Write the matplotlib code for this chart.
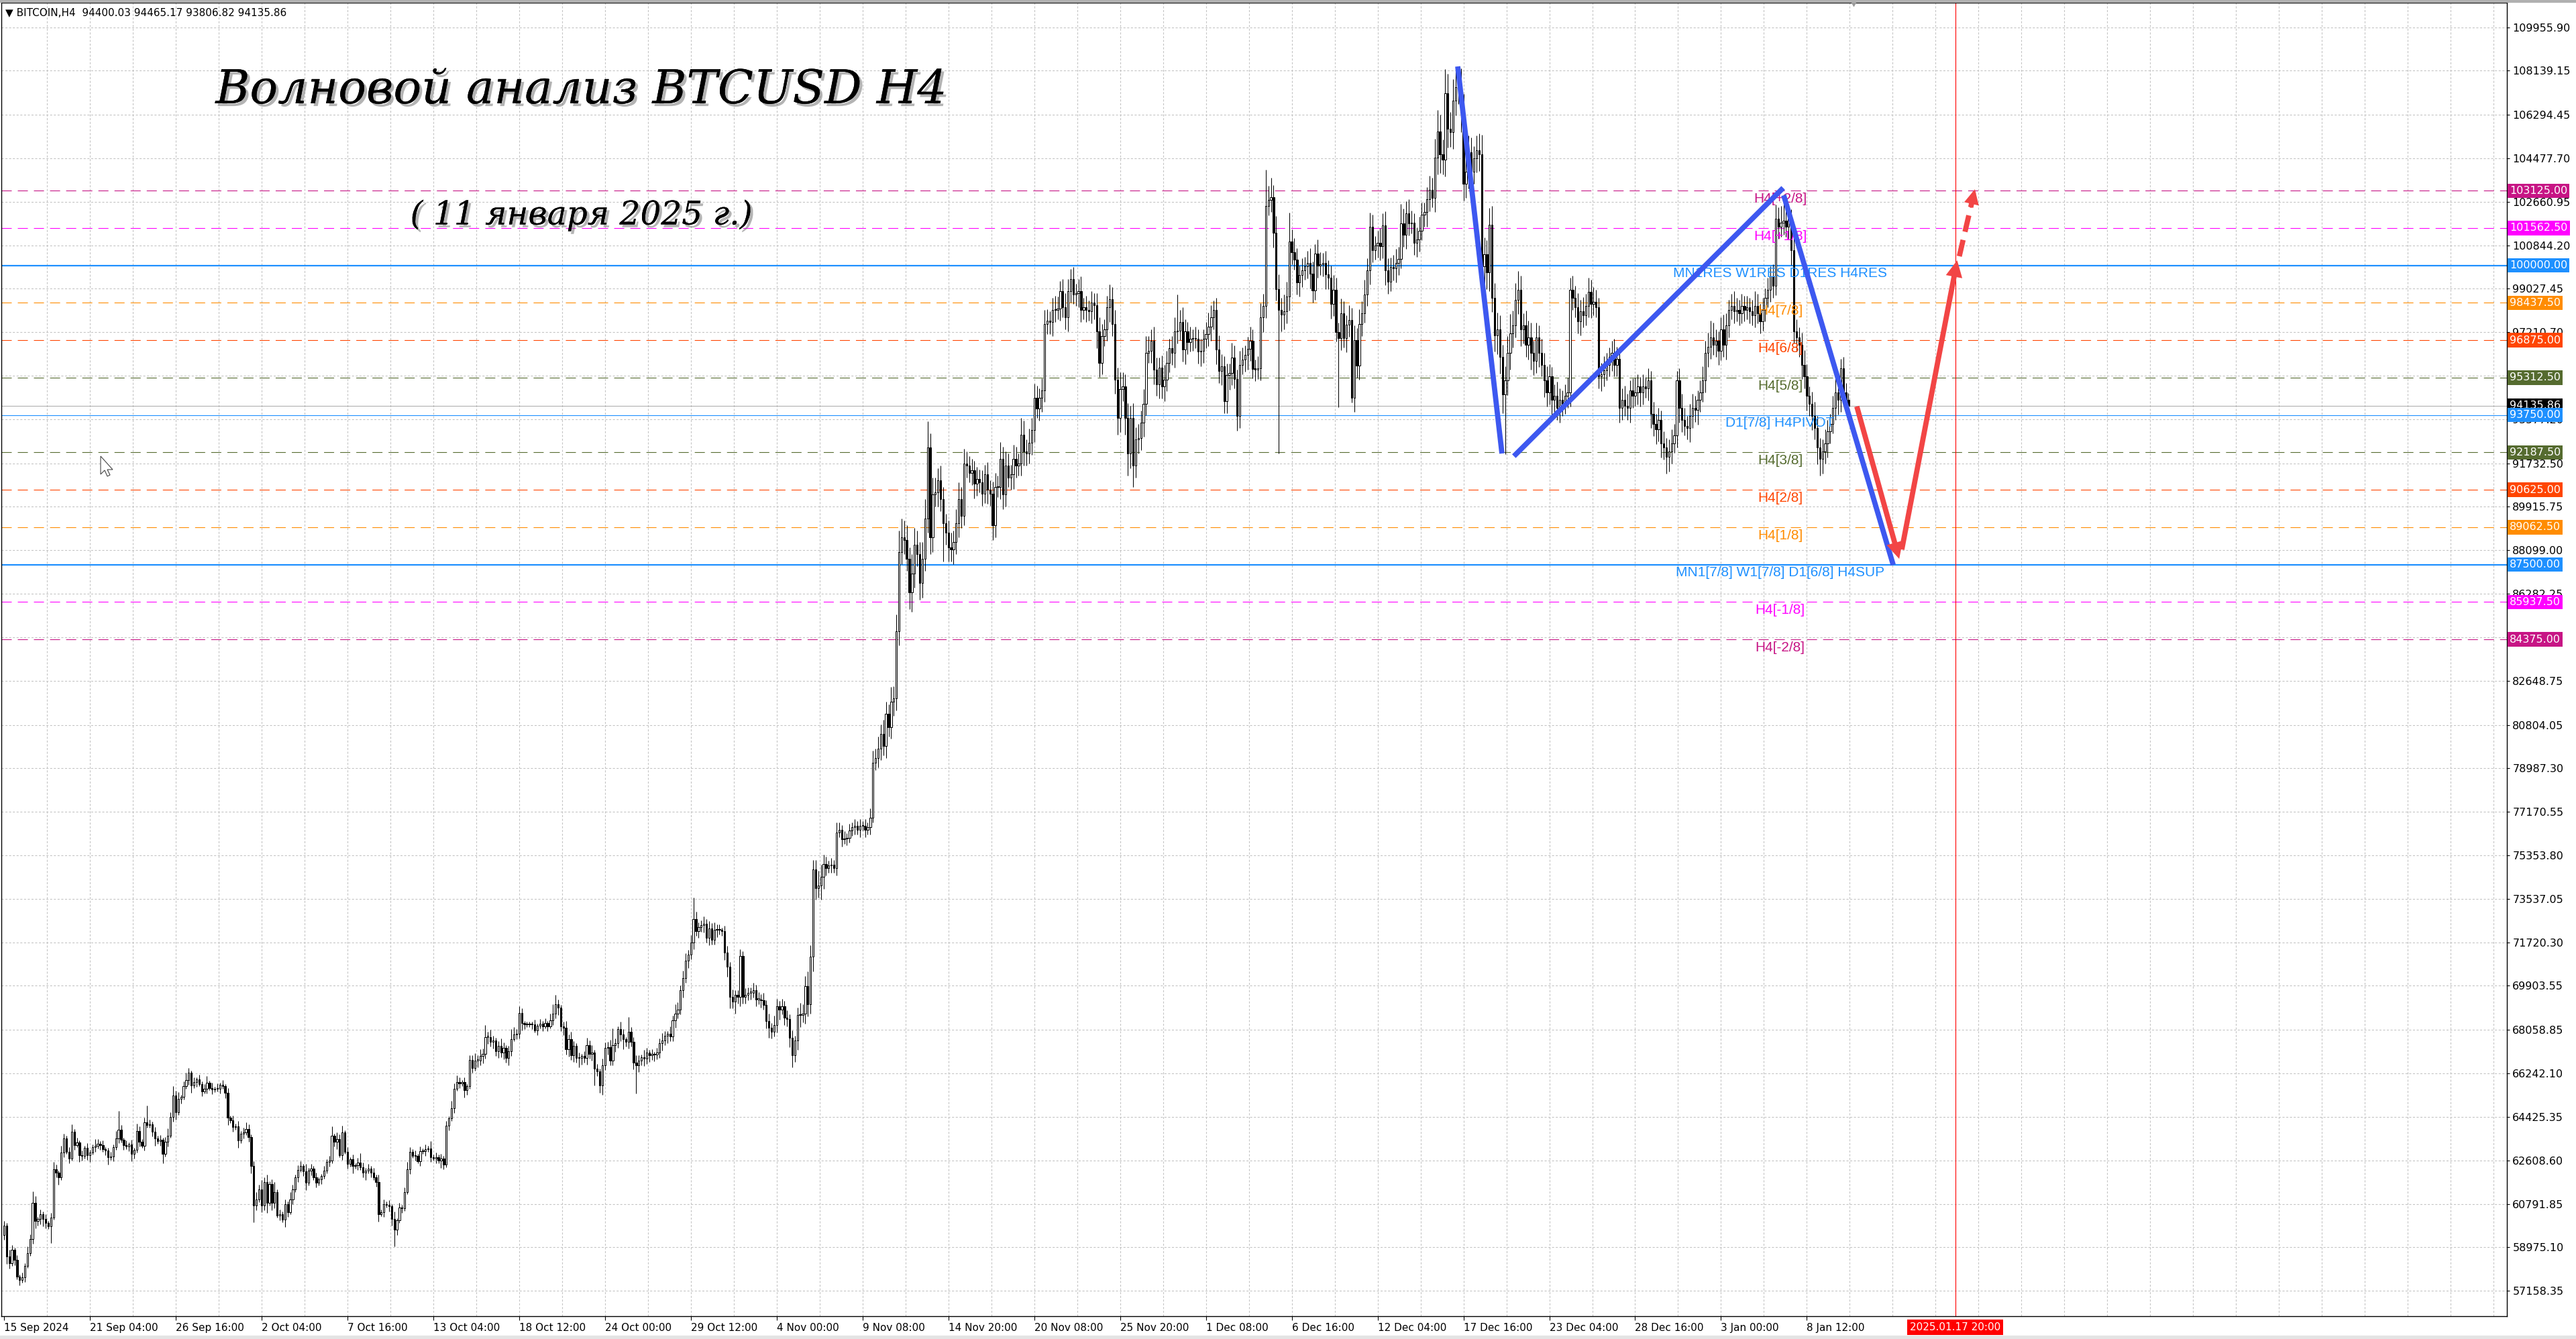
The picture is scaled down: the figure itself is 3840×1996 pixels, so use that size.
import matplotlib
matplotlib.use("Agg")
import matplotlib.pyplot as plt
import matplotlib.patheffects as pe
from matplotlib.patches import Polygon
import numpy as np

# --- chart data (BTCUSD H4, 15 Sep 2024 - 11 Jan 2025) ---

# closes per H4 bar, in USD
closes_sep_oct = [
    59890, 58580, 58300, 58860, 58440, 57740, 57600, 57720, 58210, 58720,
    59330, 60820, 60080, 60150, 60360, 60150, 59980, 59840, 60220, 62230,
    62090, 61900, 62930, 63530, 62970, 62690, 63810, 63250, 63350, 62830,
    62790, 63130, 62830, 62950, 63160, 63210, 63300, 63250, 63070, 63020,
    62740, 62770, 63160, 63530, 63880, 63460, 63250, 63180, 63270, 62880,
    63040, 63830, 63390, 63230, 64190, 64080, 64120, 63800, 63530, 63410,
    63460, 62880, 63390, 63650, 64420, 65310, 64610, 65170, 65260, 65710,
    65960, 66260, 65730, 65870, 65980, 65800, 65500, 65590, 65840, 65640,
    65570, 65590, 65610, 65760, 65700, 65420, 64390, 64280, 64000, 64040,
    63440, 63720, 63770, 63910, 63580, 62370, 60730, 60970, 61390, 60730,
    61710, 60820, 61620, 60820, 61290, 60310, 60360, 60120, 60780, 60450,
    60970, 61390, 61900, 62210, 62370, 62150, 61670, 62180, 62270, 61900,
    61670, 61810, 61950, 62180, 62550, 62600, 63630, 63390, 63490, 62830,
    63770, 62970, 62460, 62650, 62370, 62400, 62510, 62320, 62090, 62180,
    62270, 62090, 61900, 61710, 60360, 60450, 60780, 60750, 60680, 60170,
    59700, 60100, 60640, 60600, 61290, 62230, 62970, 62810, 62790, 62580,
    62990, 63000, 63070, 63110, 62740, 62690, 62740, 62600, 62690, 62430,
    64050, 64360, 64800, 65610, 65870, 65820, 65870, 65540, 65700, 66800,
    66460, 66790,
]
closes_oct_nov = [
    66790, 66960, 67070, 67770, 67770, 67570, 67620, 67180, 67400, 67120,
    67320, 66880, 67180, 67680, 67880, 67900, 68760, 68340, 68290, 68290,
    68290, 68290, 68040, 68230, 68320, 68210, 68340, 68210, 68450, 68730,
    69120, 68990, 68210, 68140, 67240, 67680, 67010, 67400, 66900, 66900,
    66960, 66900, 67430, 67070, 67120, 66440, 66330, 65740, 66570, 67320,
    67350, 66770, 67430, 67500, 68100, 67880, 67660, 67570, 67990, 67570,
    66700, 66590, 66790, 66930, 66850, 67120, 67010, 67050, 67040, 67100,
    67510, 67620, 67810, 67900, 67790, 68450, 68730, 68920, 69720, 70230,
    70950, 71200, 71720, 72690, 72200, 72350, 72440, 72500, 71910, 72310,
    71830, 72240, 72270, 72240, 72200, 71280, 70690, 69450, 69250, 69510,
    69450, 71140, 69450, 69510, 69620, 69620, 69730, 69340, 69340, 69300,
    69100, 68430, 68140, 67990, 68260, 69060, 68900, 69060, 68570, 68510,
    67730, 67010, 67620, 68680, 68680, 68730, 69900, 69140, 71110, 74770,
    73990, 74100, 74460, 74990,
]
closes_nov_dec = [
    74820, 74920, 74955, 74820, 76320, 76420, 76020, 76060, 76080, 76380,
    76520, 76580, 76420, 76580, 76580, 76420, 76520, 76920, 79220, 79420,
    79820, 80420, 79920, 81260, 80720, 81780, 81920, 84720, 88030, 88630,
    88530, 87730, 86330, 87130, 88330, 87930, 86730, 87730, 89430, 92390,
    88630, 90430, 90530, 91030, 90230, 89230, 88830, 88230, 88130, 88430,
    89230, 90230, 89530, 91730, 91630, 91330, 91430, 90870, 91070, 90930,
    90470, 91270, 90630, 90470, 89130, 90730, 90730, 91930, 90430, 91630,
    91130, 91270, 91910, 91630, 91730, 92930, 92230, 92130, 92590, 93130,
    94470, 94030, 94470, 94790, 97540, 97680, 97640, 98140, 98140, 98200,
    98940, 98240, 97840, 98940, 99440, 98800, 98840, 98940, 98140, 98240,
    98140, 98080, 98440, 98340, 97240, 95940, 97040, 97340, 98240, 98600,
    97540, 95240, 93640, 94840, 94940, 93640, 92130, 93640, 91630, 92730,
    92790, 93430, 94230, 96340, 96440, 96840, 95640, 95040, 95740, 94940,
    95240, 95940, 96540, 96340, 97240, 97280, 97640, 96480, 97240, 96800,
    96940, 96940, 96940, 96400, 96440, 96940, 97140, 97440, 97840, 98140,
    96480, 95600, 95800, 94330,
]
closes_dec = [
    95410, 95510, 96160, 95250, 93710, 95840, 96070, 96250, 96520, 96840,
    95680, 95660, 95700, 97820, 98310, 102500, 102730, 102850, 101360, 99020,
    98150, 97940, 98090, 98710, 101000, 100550, 100230, 99300, 99600, 99790,
    99950, 100110, 99650, 98950, 100490, 99990, 100050, 100110, 99620, 99500,
    98385, 98990, 97220, 96965, 98010, 96965, 97530, 97730, 94480, 96890,
    95820, 97560, 98010, 98800, 99800, 101610, 100630, 100830, 100950, 100810,
    101670, 99790, 99320, 99930, 99880, 100100, 100270, 101770, 101280, 102170,
    101750, 101780, 100950, 101080, 101450, 102120, 102230, 102760, 103150, 102820,
]
closes_dec_jan = [
    104500, 105600, 104650, 104410, 107200, 105720, 105560, 106875, 107450, 107530,
    106380, 103420, 103910, 104740, 103910, 104490, 104820, 104650, 99965, 100460,
    99720, 101690, 98650, 97090, 97330, 96180, 94620, 95195, 96350, 97170,
    97500, 98570, 98980, 97335, 97500, 96675, 97005, 96350, 96020, 97005,
    96350, 95855, 95195, 94700, 95360, 94375, 94540, 94045, 94375, 94210,
    94540, 94700, 98980, 98650, 98240, 97665, 98075, 97910, 98320, 98895,
    98405, 98485, 98240, 95360, 95440, 95605, 95855, 96180, 96350, 95855,
    96100, 94045, 94375, 94125, 94045, 94785, 94540, 94700, 94950, 94700,
    94950, 94865, 95195, 93800, 93385, 93140, 93550, 92565, 92400, 91990,
    92235, 92565, 92890, 95195, 94045, 93550, 93305, 93220, 93715, 94045,
    93960, 94375, 94700, 95195, 96350, 96595, 97005, 96675, 96840, 96430,
    97335, 96675, 97500, 98155, 98320, 98075, 98155, 97990, 98320, 98155,
    98240, 98075, 97910, 98320, 97990, 97665, 98155, 98650, 98980, 99555,
    99145, 101940, 101610, 101775, 101860, 101610, 101940, 100625, 97250, 97005,
    96675, 95855, 95360, 94540, 94210, 93715, 93220, 92400, 91905, 92235,
    92565, 93055, 93385, 94045, 94700, 94375, 95690, 94700, 94375, 94135.86,
]
first_open = 59500

# wick lengths above / below the body, in units of 100 USD
wick_hi_sep_oct = [
    2, 1, 3, 2, 1, 2, 1, 2, 1, 3,  2, 5, 3, 1, 2, 1, 2, 1, 2, 3,
    2, 1, 3, 2, 1, 2, 3, 1, 2, 1,  2, 1, 2, 1, 1, 3, 2, 1, 2, 1,
    1, 2, 1, 3, 8, 2, 1, 2, 1, 2,  1, 3, 2, 1, 2, 7, 2, 1, 2, 1,
    2, 1, 2, 3, 2, 4, 2, 3, 1, 2,  3, 2, 1, 2, 1, 2, 1, 2, 3, 1,
    2, 1, 2, 1, 2, 1, 2, 1, 2, 1,  2, 1, 2, 3, 2, 1, 2, 3, 2, 4,
    2, 3, 1, 2, 4, 1, 2, 1, 2, 1,  3, 2, 1, 2, 2, 1, 3, 1, 2, 1,
    2, 1, 1, 2, 1, 2, 4, 1, 3, 2,  3, 1, 2, 1, 2, 1, 2, 4, 2, 1,
    2, 1, 2, 1, 3, 1, 2, 1, 2, 1,  3, 1, 2, 1, 2, 3, 2, 1, 2, 1,
    2, 1, 2, 1, 3, 1, 2, 1, 2, 1,  2, 1, 3, 2, 3, 2, 1, 2, 1, 2,
    2, 3,
]
wick_lo_sep_oct = [
    2, 3, 2, 1, 2, 1, 2, 1, 2, 1,  1, 2, 3, 2, 2, 3, 2, 1, 7, 1,
    2, 3, 1, 2, 1, 2, 1, 2, 1, 3,  2, 1, 2, 3, 1, 2, 1, 2, 1, 2,
    3, 1, 2, 1, 2, 1, 2, 1, 2, 3,  2, 1, 2, 1, 2, 1, 1, 2, 3, 1,
    2, 4, 1, 2, 1, 2, 3, 1, 2, 1,  1, 2, 3, 1, 2, 1, 2, 1, 2, 1,
    2, 1, 1, 2, 1, 2, 3, 1, 2, 1,  3, 1, 2, 1, 2, 3, 7, 2, 1, 3,
    2, 4, 1, 3, 2, 1, 2, 1, 3, 2,  1, 2, 1, 2, 1, 2, 3, 1, 2, 1,
    2, 1, 2, 1, 1, 2, 1, 2, 3, 1,  2, 1, 2, 1, 3, 1, 2, 1, 2, 3,
    1, 2, 1, 2, 3, 1, 2, 1, 2, 3,  7, 2, 1, 2, 1, 1, 2, 1, 2, 1,
    2, 1, 2, 1, 2, 1, 2, 1, 3, 2,  1, 2, 1, 2, 1, 2, 1, 3, 2, 1,
    2, 1,
]
wick_hi_oct_nov = [
    2, 3, 2, 5, 2, 3, 2, 1, 2, 3,  2, 1, 2, 4, 3, 2, 3, 2, 1, 1,
    1, 1, 2, 1, 2, 1, 2, 1, 3, 4,  4, 2, 1, 2, 3, 2, 3, 2, 1, 2,
    1, 2, 3, 2, 3, 1, 2, 1, 3, 2,  2, 3, 7, 2, 1, 3, 2, 1, 6, 2,
    2, 3, 2, 1, 3, 2, 1, 2, 1, 2,  2, 3, 2, 1, 3, 2, 4, 3, 2, 3,
    3, 2, 3, 9, 3, 2, 2, 3, 2, 3,  2, 3, 2, 2, 1, 2, 3, 2, 3, 2,
    2, 3, 2, 3, 2, 2, 3, 2, 3, 2,  3, 2, 3, 2, 4, 3, 2, 3, 2, 3,
    2, 3, 2, 3, 5, 4, 4, 6, 5, 4,  4, 6, 5, 4,
]
wick_lo_oct_nov = [
    3, 2, 3, 2, 3, 2, 3, 2, 3, 2,  3, 2, 3, 2, 1, 2, 2, 3, 2, 1,
    1, 2, 1, 2, 1, 2, 1, 2, 1, 2,  2, 3, 2, 3, 2, 3, 2, 3, 2, 4,
    3, 2, 3, 2, 3, 7, 2, 3, 4, 2,  3, 2, 2, 3, 2, 3, 4, 2, 3, 2,
    3, 12, 3, 2, 3, 2, 3, 2, 3, 2,  2, 3, 2, 3, 2, 2, 3, 2, 2, 3,
    2, 3, 2, 3, 2, 3, 2, 3, 2, 3,  2, 2, 3, 2, 2, 3, 4, 5, 3, 5,
    3, 4, 3, 3, 2, 3, 2, 3, 2, 3,  2, 3, 4, 3, 2, 3, 4, 2, 3, 3,
    4, 5, 3, 4, 5, 3, 4, 5, 4, 6,  5, 4, 6, 5,
]
wick_hi_nov_dec = [
    3, 2, 3, 2, 4, 3, 2, 3, 2, 3,  2, 3, 2, 3, 2, 3, 2, 4, 5, 4,
    5, 4, 6, 5, 4, 6, 5, 7, 9, 8,  7, 6, 5, 8, 7, 6, 5, 7, 8, 11,
    6, 7, 6, 5, 6, 5, 4, 5, 6, 5,  6, 7, 5, 6, 5, 4, 5, 4, 5, 4,
    5, 4, 5, 4, 5, 6, 5, 7, 5, 6,  5, 4, 6, 5, 4, 7, 6, 5, 6, 5,
    6, 5, 4, 5, 6, 5, 4, 5, 6, 5,  4, 5, 6, 5, 4, 5, 4, 5, 6, 4,
    5, 4, 5, 4, 5, 6, 5, 4, 5, 6,  5, 6, 5, 7, 6, 5, 6, 5, 6, 5,
    6, 5, 6, 7, 6, 5, 6, 5, 4, 5,  6, 5, 4, 5, 6, 15, 5, 6, 5, 4,
    5, 4, 5, 4, 5, 4, 5, 6, 5, 4,  5, 6, 5, 4,
]
wick_lo_nov_dec = [
    3, 2, 3, 2, 3, 2, 3, 2, 3, 2,  2, 3, 2, 3, 2, 3, 2, 3, 2, 3,
    4, 5, 4, 5, 4, 5, 6, 5, 6, 5,  6, 5, 7, 8, 6, 5, 7, 6, 5, 6,
    7, 6, 5, 6, 5, 16, 5, 6, 5, 6,  5, 6, 5, 4, 5, 4, 5, 6, 5, 4,
    5, 4, 6, 5, 6, 5, 4, 5, 6, 5,  4, 5, 6, 5, 4, 5, 6, 5, 4, 5,
    5, 4, 5, 6, 5, 4, 5, 6, 5, 4,  5, 4, 5, 6, 5, 4, 5, 6, 5, 4,
    5, 4, 5, 6, 7, 6, 5, 4, 5, 6,  5, 6, 7, 6, 5, 7, 9, 6, 9, 5,
    6, 5, 6, 5, 4, 5, 6, 5, 6, 5,  6, 5, 4, 5, 6, 5, 4, 5, 6, 5,
    4, 5, 4, 5, 6, 5, 4, 5, 6, 5,  6, 5, 6, 5,
]
wick_hi_dec = [
    5, 4, 6, 5, 4, 6, 5, 4, 5, 6,  5, 4, 5, 6, 5, 15, 6, 8, 5, 7,
    6, 5, 7, 6, 12, 5, 6, 5, 4, 5,  4, 5, 6, 5, 4, 6, 5, 4, 5, 6,
    5, 6, 5, 4, 6, 5, 4, 6, 5, 6,  5, 6, 5, 6, 5, 6, 5, 4, 5, 6,
    5, 6, 5, 4, 5, 6, 5, 8, 6, 5,  6, 5, 4, 5, 6, 5, 4, 5, 6, 5,
]
wick_lo_dec = [
    5, 6, 5, 4, 6, 5, 4, 5, 6, 5,  4, 5, 4, 5, 6, 5, 4, 5, 6, 5,
    60, 7, 6, 5, 6, 5, 4, 5, 6, 5,  4, 5, 6, 5, 4, 5, 4, 5, 6, 5,
    6, 5, 4, 29, 5, 4, 6, 5, 2, 6,  5, 6, 5, 4, 5, 6, 5, 4, 5, 6,
    5, 6, 5, 4, 5, 6, 5, 4, 5, 6,  5, 4, 5, 6, 5, 4, 5, 6, 5, 4,
]
wick_hi_dec_jan = [
    8, 9, 7, 6, 10, 8, 7, 9, 8, 8,  7, 8, 6, 7, 6, 5, 6, 7, 8, 7,
    6, 7, 8, 6, 7, 6, 5, 6, 7, 8,  6, 7, 8, 6, 5, 6, 7, 6, 5, 6,
    5, 6, 5, 6, 5, 4, 5, 6, 5, 4,  5, 6, 5, 6, 5, 6, 5, 6, 5, 6,
    5, 6, 5, 4, 5, 6, 5, 4, 5, 6,  5, 4, 5, 6, 5, 4, 5, 6, 5, 4,
    5, 4, 5, 4, 5, 4, 5, 4, 5, 4,  5, 6, 5, 4, 5, 6, 5, 4, 5, 6,
    5, 4, 5, 6, 5, 6, 7, 6, 5, 4,  5, 6, 5, 4, 5, 6, 5, 4, 5, 4,
    5, 4, 5, 6, 5, 4, 5, 4, 5, 4,  5, 6, 5, 7, 11, 6, 5, 4, 6, 5,
    4, 5, 6, 5, 4, 5, 6, 5, 4, 5,  6, 5, 4, 5, 8, 5, 4, 5, 4, 3,
]
wick_lo_dec_jan = [
    6, 7, 8, 6, 7, 8, 6, 7, 6, 7,  8, 7, 6, 7, 6, 5, 6, 7, 6, 8,
    7, 8, 6, 7, 8, 7, 8, 25, 6, 7,  6, 5, 6, 7, 6, 5, 6, 7, 6, 5,
    6, 5, 7, 6, 5, 8, 6, 5, 6, 5,  4, 5, 6, 5, 4, 5, 6, 5, 4, 5,
    6, 5, 4, 5, 6, 5, 4, 5, 6, 5,  5, 6, 5, 4, 5, 6, 5, 4, 5, 6,
    5, 4, 5, 6, 5, 6, 5, 6, 5, 7,  6, 5, 4, 5, 6, 5, 4, 5, 6, 5,
    5, 6, 5, 4, 5, 6, 5, 4, 5, 6,  4, 5, 6, 5, 4, 5, 4, 5, 4, 5,
    4, 5, 4, 5, 4, 5, 4, 5, 4, 5,  5, 4, 5, 4, 5, 4, 5, 6, 5, 6,
    5, 6, 5, 6, 5, 6, 5, 7, 7, 6,  5, 6, 5, 4, 5, 6, 5, 4, 5, 3,
]

# Murrey math levels
level_prices = [103125.0, 101562.5, 100000.0, 98437.5, 96875.0, 95312.5, 93750.0,
                92187.5, 90625.0, 89062.5, 87500.0, 85937.5, 84375.0]
level_names = ["H4[+2/8]", "H4[+1/8]", "MN1RES W1RES D1RES H4RES", "H4[7/8]", "H4[6/8]",
               "H4[5/8]", "D1[7/8] H4PIVOT", "H4[3/8]", "H4[2/8]", "H4[1/8]",
               "MN1[7/8] W1[7/8] D1[6/8] H4SUP", "H4[-1/8]", "H4[-2/8]"]
level_colors = ["#C71585", "#FF00FF", "#1E90FF", "#FF8C00", "#FF4500", "#556B2F", "#1E90FF",
                "#556B2F", "#FF4500", "#FF8C00", "#1E90FF", "#FF00FF", "#C71585"]
level_width = [0.8, 0.8, 1.6, 0.8, 0.8, 0.8, 0.8, 0.8, 0.8, 0.8, 1.6, 0.8, 0.8]
last_price = 94135.86

price_ticks = ["109955.90", "108139.15", "106294.45", "104477.70", "102660.95", "100844.20",
               "99027.45", "97210.70", "95393.95", "93577.20", "91732.50", "89915.75",
               "88099.00", "86282.25", "84465.50", "82648.75", "80804.05", "78987.30",
               "77170.55", "75353.80", "73537.05", "71720.30", "69903.55", "68058.85",
               "66242.10", "64425.35", "62608.60", "60791.85", "58975.10", "57158.35"]
date_ticks = ["15 Sep 2024", "21 Sep 04:00", "26 Sep 16:00", "2 Oct 04:00", "7 Oct 16:00",
              "13 Oct 04:00", "18 Oct 12:00", "24 Oct 00:00", "29 Oct 12:00", "4 Nov 00:00",
              "9 Nov 08:00", "14 Nov 20:00", "20 Nov 08:00", "25 Nov 20:00", "1 Dec 08:00",
              "6 Dec 16:00", "12 Dec 04:00", "17 Dec 16:00", "23 Dec 04:00", "28 Dec 16:00",
              "3 Jan 00:00", "8 Jan 12:00"]
bars_per_label = 33

# wave drawing (bar index, price)
wave_a = [(558.8, 108316), (575.8, 92143)]
wave_b = [(580.4, 92031), (683.9, 103240)]
wave_c = [(684.1, 102932), (726.2, 87487)]
arrow_down = [(712.2, 94110), (728.5, 87740)]
arrow_up = [(729.5, 88130), (750.8, 100215)]
arrow_dash = [(751.6, 100384), (757.6, 103184)]
future_bar = 750.1
future_label = "2025.01.17 20:00"

# --- build candles ---
closes = np.array(closes_sep_oct + closes_oct_nov + closes_nov_dec + closes_dec + closes_dec_jan, float)
wick_hi = np.array(wick_hi_sep_oct + wick_hi_oct_nov + wick_hi_nov_dec + wick_hi_dec + wick_hi_dec_jan, float)
wick_lo = np.array(wick_lo_sep_oct + wick_lo_oct_nov + wick_lo_nov_dec + wick_lo_dec + wick_lo_dec_jan, float)
n = min(len(closes), len(wick_hi), len(wick_lo))
closes, wick_hi, wick_lo = closes[:n], wick_hi[:n], wick_lo[:n]
opens = np.concatenate([[first_open], closes[:-1]])
top = np.maximum(opens, closes)
bot = np.minimum(opens, closes)
highs = top + wick_hi * 100
lows = bot - wick_lo * 100
xs = np.arange(n)

plt.rcParams['font.family'] = ['DejaVu Sans']
plt.rcParams['lines.scale_dashes'] = False

W, H, DPI = 3840, 1996, 100
fig = plt.figure(figsize=(W / DPI, H / DPI), dpi=DPI, facecolor='white')
ax = fig.add_axes([2 / W, 34 / H, 3735 / W, 1958 / H])
ax.set_xlim(-1.03, 962.1)
ax.set_ylim(56097, 110979)

# grid
tick_vals = [float(t) for t in price_ticks]
grid_style = dict(color='#c4c4c4', lw=0.8, ls=(0, (2.2, 1.8)), zorder=0.5)
for v in tick_vals:
    ax.axhline(v, **grid_style)
for k in range(1, 59):
    ax.axvline(k * bars_per_label / 2, **grid_style)

# levels
for p, c, w in zip(level_prices, level_colors, level_width):
    if c == "#1E90FF":
        ax.axhline(p, color=c, lw=w, zorder=1.5)
    else:
        ax.axhline(p, color=c, lw=w, ls=(0, (10.8, 6.5)), zorder=1.5)
ax.axhline(last_price, color='#a8a8a8', lw=0.7, zorder=1.5)
ax.axvline(future_bar, color='#ff0000', lw=0.8, zorder=1.6)

# candles
ax.vlines(xs, lows, highs, color='black', lw=0.75, zorder=3)
up = closes >= opens
body = np.maximum(top - bot, 30)
ax.bar(xs[up], body[up], bottom=bot[up], width=0.6, facecolor='white',
       edgecolor='black', linewidth=0.75, zorder=4)
ax.bar(xs[~up], body[~up], bottom=bot[~up], width=0.6, facecolor='black',
       edgecolor='black', linewidth=0.75, zorder=4)

# level labels
for p, name, c in zip(level_prices, level_names, level_colors):
    ax.annotate(name, (682.7, p), xytext=(0, -2), textcoords='offset points',
                ha='center', va='top', color=c, fontsize=15,
                family=['Liberation Sans', 'DejaVu Sans'], zorder=6)

# waves and arrows
blue = '#3d58f0'
for seg in (wave_a, wave_b, wave_c):
    (x0, y0), (x1, y1) = seg
    ax.plot([x0, x1], [y0, y1], color=blue, lw=5.6, solid_capstyle='butt', zorder=7)
red = '#f24545'
for seg in (arrow_down, arrow_up):
    (x0, y0), (x1, y1) = seg
    ax.annotate('', xy=(x1, y1), xytext=(x0, y0),
                arrowprops=dict(arrowstyle='-|>', color=red, lw=5.6, mutation_scale=22,
                                shrinkA=0, shrinkB=0, capstyle='butt', joinstyle='miter'),
                zorder=8)
(x0, y0), (x1, y1) = arrow_dash
ax.plot([x0, x0 + (x1 - x0) * 0.8], [y0, y0 + (y1 - y0) * 0.8], color=red, lw=5.6,
        ls=(0, (18, 9)), solid_capstyle='butt', dash_capstyle='butt', zorder=8)
ax.annotate('', xy=(x1, y1), xytext=(x0 + (x1 - x0) * 0.75, y0 + (y1 - y0) * 0.75),
            arrowprops=dict(arrowstyle='-|>', color=red, lw=4, mutation_scale=24,
                            shrinkA=0, shrinkB=0, joinstyle='miter'), zorder=8)

# axes, ticks
for s in ax.spines.values():
    s.set_color('black')
    s.set_linewidth(1.0)
ax.yaxis.tick_right()
ax.set_yticks(tick_vals)
ax.set_yticklabels(price_ticks, fontsize=11.5)
ax.tick_params(axis='y', length=3, width=0.8, pad=3, colors='black')
ax.set_xticks([k * bars_per_label for k in range(len(date_ticks))])
ax.set_xticklabels(date_ticks, fontsize=11, ha='left')
ax.tick_params(axis='x', length=4, width=0.8, pad=3, colors='black')

# coloured price boxes on the right scale (current price box below the level boxes)
ax.text(1.00107, last_price, f"{last_price:.2f}", transform=ax.get_yaxis_transform(),
        ha='left', va='center', color='white', fontsize=11.5, zorder=9, clip_on=False,
        bbox=dict(boxstyle='square,pad=0.2', fc='black', ec='none'))
for p, c in zip(level_prices, level_colors):
    ax.text(1.00107, p, f"{p:.2f}", transform=ax.get_yaxis_transform(), ha='left', va='center',
            color='white', fontsize=11.5, zorder=10, clip_on=False,
            bbox=dict(boxstyle='square,pad=0.2', fc=c, ec='none'))
ax.text(future_bar, -0.0085, future_label, transform=ax.get_xaxis_transform(), ha='center',
        va='center', color='white', fontsize=11, zorder=10, clip_on=False,
        bbox=dict(boxstyle='square,pad=0.25', fc='#ff0000', ec='none'))
ax.plot([711], [1.0], marker='v', color='#9a9a9a', markersize=7,
        transform=ax.get_xaxis_transform(), clip_on=False, zorder=10)

# header and titles
fig.text(8 / W, 1 - 20 / H, "\u25bc BITCOIN,H4  94400.03 94465.17 93806.82 94135.86",
         fontsize=11, va='center', ha='left')
shadow = [pe.withSimplePatchShadow(offset=(3, -3), shadow_rgbFace='#777777', alpha=0.55), pe.Normal()]
fig.text(867 / W, 1 - 135 / H, "Волновой анализ BTCUSD H4", fontsize=50, style='italic',
         family='DejaVu Serif', ha='center', va='center', path_effects=shadow)
fig.text(867 / W, 1 - 321 / H, "( 11 января 2025 г.)", fontsize=35, style='italic',
         family='DejaVu Serif', ha='center', va='center', path_effects=shadow)

# mouse pointer
cx, cy = 150, 680
cur = np.array([(0, 0), (0, 27), (6, 21), (10, 30), (14, 28), (10, 20), (18, 20)], float)
pts = [((cx + dx) / W, 1 - (cy + dy) / H) for dx, dy in cur]
fig.patches.append(Polygon(pts, closed=True, transform=fig.transFigure, facecolor='white',
                           edgecolor='#444444', lw=0.8, zorder=20))

# window frame strips
fig.patches.append(plt.Rectangle((0, 1 - 3 / H), 1, 3 / H, transform=fig.transFigure,
                                 color='#b0b0b0', zorder=0))
fig.patches.append(plt.Rectangle((0, 0), 1, 5 / H, transform=fig.transFigure,
                                 color='#e4e4e4', zorder=0))

fig.savefig('out.png', dpi=DPI, facecolor='white')
